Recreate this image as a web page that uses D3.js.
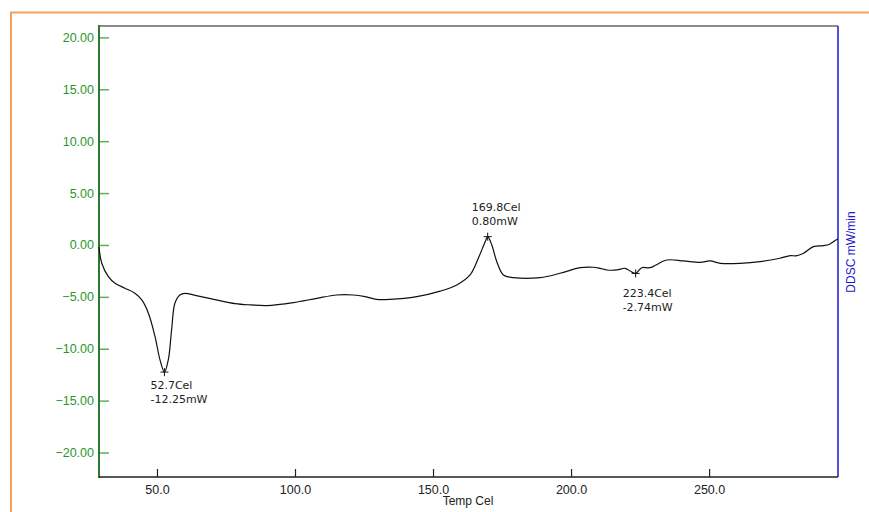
<!DOCTYPE html>
<html>
<head>
<meta charset="utf-8">
<script src="https://cdn.jsdelivr.net/npm/d3@7"></script>
<style>
    body { margin: 0; background: #fff; }
    svg { display: block; }
</style>
</head>
<body>
<svg id="gfx" width="869" height="512"></svg>
<script>
// DDSC trace (Temp Cel, mW/min)
const temps = [29.0, 30.0, 32.4, 34.8, 38.4, 42.0, 44.5, 46.9, 49.3, 51.1, 52.7, 54.1, 55.3, 56.5, 58.3, 60.2,
    63.8, 71.0, 78.3, 84.0, 89.8, 99.4, 107.9, 115.1, 121.1, 125.4, 129.6, 134.4, 144.1, 152.6, 158.6,
    163.4, 166.4, 168.9, 169.8, 171.3, 173.1, 175.5, 179.1, 188.8, 196.0, 203.3, 208.1, 210.5, 213.0,
    216.6, 219.6, 221.4, 223.4, 225.6, 228.6, 234.7, 240.7, 246.8, 250.4, 254.1, 261.3, 268.5, 275.7,
    279.4, 281.5, 284.2, 287.8, 291.4, 293.5, 295.0, 296.6];
const values = [-0.2, -1.76, -3.05, -3.69, -4.17, -4.65, -5.30, -6.58, -8.83, -11.08, -12.25, -11.08, -8.19,
    -5.62, -4.82, -4.66, -4.85, -5.26, -5.65, -5.78, -5.85, -5.56, -5.14, -4.82, -4.82, -4.98, -5.24,
    -5.24, -4.98, -4.45, -3.86, -2.89, -1.28, 0.32, 0.80, 0.0, -1.61, -2.89, -3.15, -3.15, -2.73, -2.19,
    -2.15, -2.25, -2.41, -2.41, -2.25, -2.51, -2.74, -2.19, -2.19, -1.45, -1.54, -1.67, -1.54, -1.77,
    -1.77, -1.61, -1.28, -1.03, -1.05, -0.80, -0.16, -0.06, 0.05, 0.32, 0.58];

const peakTemps = [52.7, 169.8, 223.4];
const peakValues = [-12.25, 0.80, -2.74];
const peakLabels = [["52.7Cel", "-12.25mW"], ["169.8Cel", "0.80mW"], ["223.4Cel", "-2.74mW"]];

const xTicks = [50, 100, 150, 200, 250];
const yTicks = [-20, -15, -10, -5, 0, 5, 10, 15, 20];

const box = { left: 99, right: 838, top: 26, bottom: 477 };

const svg = d3.select("#gfx");

// orange frame
svg.append("path")
    .attr("d", "M11,512 V12.5 H869")
    .attr("fill", "none")
    .attr("stroke", "#f6a05c")
    .attr("stroke-width", 2);

const x = d3.scaleLinear().domain([29, 296.7]).range([box.left, box.right]);
const y = d3.scaleLinear().domain([-22.36, 21.1]).range([box.bottom, box.top]);

// top and right frame lines
svg.append("line")
    .attr("x1", box.left).attr("x2", box.right)
    .attr("y1", box.top).attr("y2", box.top)
    .attr("stroke", "#8c8c8c").attr("stroke-width", 2);

svg.append("line")
    .attr("x1", box.right).attr("x2", box.right)
    .attr("y1", box.top).attr("y2", box.bottom)
    .attr("stroke", "#1a1acc").attr("stroke-width", 1.5);

// y axis, ticks pointing inward
const yAxis = svg.append("g")
    .attr("transform", "translate(" + box.left + ",0)")
    .call(d3.axisLeft(y).tickValues(yTicks).tickFormat(d3.format(".2f")).tickSize(-10).tickPadding(5));
yAxis.select(".domain").remove();
yAxis.selectAll(".tick line").attr("stroke", "#5fae5f").attr("stroke-width", 1.5);
yAxis.selectAll("text")
    .attr("fill", "#2c962c")
    .style("font-family", "'Liberation Sans', Arial, sans-serif")
    .style("font-size", "12.5px");
svg.append("line")
    .attr("x1", box.left).attr("x2", box.left)
    .attr("y1", box.top - 1).attr("y2", box.bottom + 1)
    .attr("stroke", "#2b7a2b").attr("stroke-width", 2);

// x axis, ticks pointing up
const xAxis = svg.append("g")
    .attr("transform", "translate(0," + box.bottom + ")")
    .call(d3.axisBottom(x).tickValues(xTicks).tickFormat(d3.format(".1f")).tickSize(-8).tickPadding(8));
xAxis.select(".domain").remove();
xAxis.selectAll(".tick line").attr("stroke", "#222").attr("stroke-width", 1.2);
xAxis.selectAll("text")
    .attr("fill", "#222")
    .style("font-family", "'Liberation Sans', Arial, sans-serif")
    .style("font-size", "12.5px");
svg.append("line")
    .attr("x1", box.left).attr("x2", box.right)
    .attr("y1", box.bottom).attr("y2", box.bottom)
    .attr("stroke", "#222").attr("stroke-width", 1.5);

svg.append("text")
    .attr("x", 468).attr("y", 505)
    .attr("text-anchor", "middle")
    .attr("fill", "#222")
    .style("font-family", "'Liberation Sans', Arial, sans-serif")
    .style("font-size", "12px")
    .text("Temp Cel");

svg.append("text")
    .attr("transform", "translate(855,252) rotate(-90)")
    .attr("text-anchor", "middle")
    .attr("fill", "#1a1acc")
    .style("font-family", "'Liberation Sans', Arial, sans-serif")
    .style("font-size", "12px")
    .text("DDSC mW/min");

// the trace
const trace = temps.map((t, i) => ({ t: t, v: values[i] }));
const line = d3.line()
    .x(d => x(d.t))
    .y(d => y(d.v))
    .curve(d3.curveCatmullRom.alpha(0.5));

svg.append("path")
    .datum(trace)
    .attr("d", line)
    .attr("fill", "none")
    .attr("stroke", "#111")
    .attr("stroke-width", 1.2);

// peak markers and labels
const peaks = peakTemps.map((t, i) => ({ t: t, v: peakValues[i], lab: peakLabels[i] }));
const labelOffsets = [[-14, 17], [-16, -26], [-13, 24]];

const pk = svg.selectAll("g.peak")
    .data(peaks)
    .enter()
    .append("g")
    .attr("class", "peak")
    .attr("transform", d => "translate(" + x(d.t) + "," + y(d.v) + ")");

pk.append("path")
    .attr("d", "M-4,0 H4 M0,-4 V4")
    .attr("stroke", "#111")
    .attr("stroke-width", 1);

pk.each(function (d, i) {
    const g = d3.select(this);
    const off = labelOffsets[i];
    d.lab.forEach((s, j) => {
        g.append("text")
            .attr("x", off[0])
            .attr("y", off[1] + j * 14)
            .attr("fill", "#222")
            .style("font-family", "'DejaVu Sans', Verdana, sans-serif")
            .style("font-size", "11px")
            .text(s);
    });
});
</script>
</body>
</html>
